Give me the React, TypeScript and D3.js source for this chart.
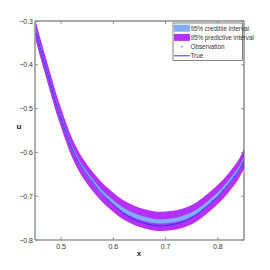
import React from 'react';
import * as d3 from 'd3';

// x grid and curve values estimated from the figure
const xs = [0.45, 0.46, 0.47, 0.48, 0.49, 0.50, 0.51, 0.52, 0.53, 0.54, 0.55, 0.56, 0.57, 0.58, 0.59, 0.60, 0.62, 0.64, 0.66, 0.68, 0.70, 0.72, 0.74, 0.76, 0.78, 0.80, 0.82, 0.84, 0.85];
const trueU = [-0.318, -0.361, -0.403, -0.445, -0.486, -0.522, -0.557, -0.588, -0.614, -0.635, -0.652, -0.668, -0.683, -0.696, -0.708, -0.719, -0.739, -0.753, -0.762, -0.767, -0.767, -0.763, -0.755, -0.741, -0.722, -0.700, -0.673, -0.641, -0.618];
const meanU = [-0.317, -0.360, -0.402, -0.444, -0.485, -0.521, -0.556, -0.587, -0.612, -0.633, -0.650, -0.666, -0.680, -0.693, -0.704, -0.714, -0.732, -0.744, -0.752, -0.757, -0.757, -0.754, -0.747, -0.735, -0.717, -0.696, -0.670, -0.638, -0.615];
const credHalf = 0.005;
const predHalf = 0.022;

const obsX = [0.47, 0.50, 0.53, 0.56, 0.59, 0.62, 0.65, 0.67, 0.69, 0.71, 0.73, 0.75, 0.77, 0.79, 0.81, 0.83];
const obsU = [-0.404, -0.523, -0.615, -0.667, -0.709, -0.740, -0.758, -0.765, -0.768, -0.765, -0.759, -0.748, -0.732, -0.711, -0.687, -0.657];

const xTicks = [0.5, 0.6, 0.7, 0.8];
const yTicks = [-0.3, -0.4, -0.5, -0.6, -0.7, -0.8];
const legendItems = ['95% credible interval', '95% predictive interval', 'Observation', 'True'];

const W = 270, H = 270;
const L = 35, R = 244, T = 21, B = 240;

const App: React.FC = () => {
    const x = d3.scaleLinear().domain([0.45, 0.85]).range([L, R]);
    const y = d3.scaleLinear().domain([-0.8, -0.3]).range([B, T]);
    const idx = d3.range(xs.length);

    const band = (half: number) => d3.area<number>()
        .x(i => x(xs[i]))
        .y0(i => y(meanU[i] - half))
        .y1(i => y(meanU[i] + half))
        .curve(d3.curveCatmullRom)(idx) || '';
    const trueLine = d3.line<number>()
        .x(i => x(xs[i]))
        .y(i => y(trueU[i]))
        .curve(d3.curveCatmullRom)(idx) || '';

    const font = 'Liberation Sans, Arial, sans-serif';
    const lx = 173, ly = 23; // legend box corner

    return (
        <svg width={W} height={H} style={{ position: 'absolute', left: 0, top: 0, background: '#fff' }}>
            <defs>
                <clipPath id="plot"><rect x={L} y={T} width={R - L} height={B - T} /></clipPath>
            </defs>
            <g clipPath="url(#plot)">
                <path d={band(predHalf)} fill="#b530f8" />
                <path d={band(credHalf)} fill="#80aef8" />
                <path d={trueLine} fill="none" stroke="#2a3cf0" strokeWidth={1} />
                {obsX.map((v, i) => (
                    <rect key={i} x={x(v) - 0.6} y={y(obsU[i]) - 0.6} width={1.2} height={1.2} fill="#2a3cf0" />
                ))}
            </g>
            {/* frame */}
            <line x1={L} x2={R} y1={T} y2={T} stroke="#555" strokeWidth={1} />
            <line x1={R} x2={R} y1={T} y2={B} stroke="#555" strokeWidth={1} />
            <line x1={L} x2={R} y1={B} y2={B} stroke="#999" strokeWidth={1.6} />
            <line x1={L} x2={L} y1={T} y2={B} stroke="#999" strokeWidth={1.6} />
            {xTicks.map(t => (
                <g key={t}>
                    <line x1={x(t)} x2={x(t)} y1={B} y2={B - 3} stroke="#777" strokeWidth={0.8} />
                    <line x1={x(t)} x2={x(t)} y1={T} y2={T + 3} stroke="#777" strokeWidth={0.8} />
                    <text x={x(t)} y={B + 9} fontSize={7} fontFamily={font} textAnchor="middle" fill="#333">{d3.format('.1f')(t)}</text>
                </g>
            ))}
            {yTicks.map(t => (
                <g key={t}>
                    <line x1={L} x2={L + 3} y1={y(t)} y2={y(t)} stroke="#777" strokeWidth={0.8} />
                    <line x1={R} x2={R - 3} y1={y(t)} y2={y(t)} stroke="#777" strokeWidth={0.8} />
                    <text x={L - 2} y={y(t) + 2.5} fontSize={7} fontFamily={font} textAnchor="end" fill="#333">{'\u2212' + d3.format('.1f')(-t)}</text>
                </g>
            ))}
            <text x={139} y={256} fontSize={8} fontFamily={font} fontWeight="bold" textAnchor="middle" fill="#222">x</text>
            <text x={19} y={129} fontSize={8} fontFamily={font} fontWeight="bold" textAnchor="middle" fill="#222">u</text>
            {/* legend */}
            <rect x={lx} y={ly} width={69.5} height={37.5} fill="#fff" stroke="#666" strokeWidth={0.8} />
            {legendItems.map((name, i) => {
                const cy = ly + 5.2 + i * 9.2;
                return (
                    <g key={name}>
                        {i === 0 && <rect x={lx + 1} y={cy - 3.5} width={16} height={7} fill="#80aef8" />}
                        {i === 1 && <rect x={lx + 1} y={cy - 3.5} width={16} height={7} fill="#b530f8" />}
                        {i === 2 && <rect x={lx + 8.4} y={cy - 0.6} width={1.2} height={1.2} fill="#2a3cf0" />}
                        {i === 3 && <line x1={lx + 1} x2={lx + 17} y1={cy} y2={cy} stroke="#2a3cf0" strokeWidth={1} />}
                        <text x={lx + 17.5} y={cy + 2.3} fontSize={6.3} fontFamily={font} fill="#333">{name}</text>
                    </g>
                );
            })}
        </svg>
    );
};

export default App;
